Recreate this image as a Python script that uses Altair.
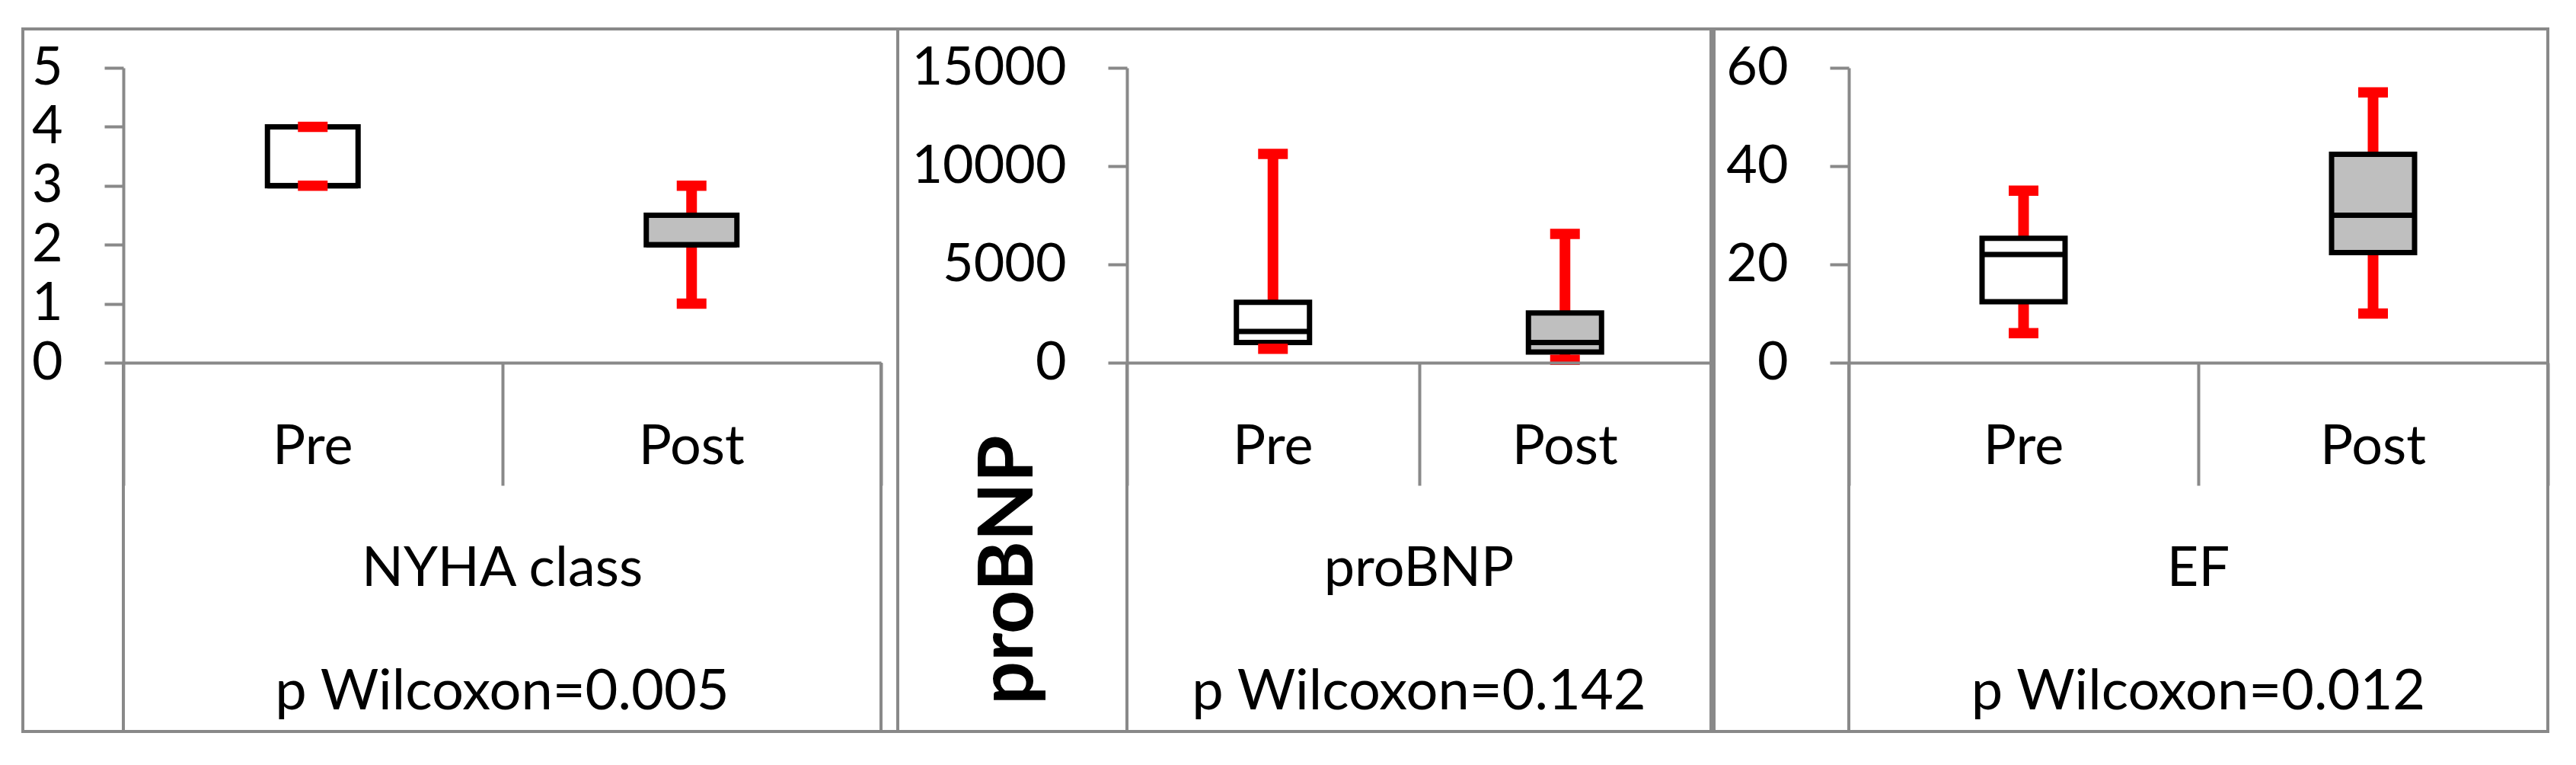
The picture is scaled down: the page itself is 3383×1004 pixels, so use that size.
import altair as alt
import pandas as pd

# ---------------- data ----------------
groups = ["Pre", "Post"]
fills = ["#FFFFFF", "#BFBFBF"]

nyha_min = [3, 1]
nyha_q1 = [3, 2]
nyha_median = [3, 2]
nyha_q3 = [4, 2.5]
nyha_max = [4, 3]
nyha_ticks = [0, 1, 2, 3, 4, 5]

bnp_min = [710, 150]
bnp_q1 = [1030, 540]
bnp_median = [1590, 1030]
bnp_q3 = [3070, 2530]
bnp_max = [10620, 6550]
bnp_ticks = [0, 5000, 10000, 15000]

ef_min = [6, 10]
ef_q1 = [12.4, 22.4]
ef_median = [22, 30]
ef_q3 = [25.3, 42.4]
ef_max = [35, 55]
ef_ticks = [0, 20, 40, 60]

panel_names = ["NYHA class", "proBNP", "EF"]
p_values = ["p Wilcoxon=0.005", "p Wilcoxon=0.142", "p Wilcoxon=0.012"]
rotated_title = "proBNP"

# ---------------- style / layout ----------------
FONT = "Lato"
FS_AXIS = 70
FS_CAT = 72
FS_P = 74
GRAY = "#898989"
RED = "#FF0000"
H = 922          # panel height
Y0 = 438         # pixel of value 0 inside a panel
YTOP = 51        # pixel of max tick inside a panel
CAT_TICK = 161


def panel(name, pval, mins, q1s, meds, q3s, maxs, ticks, width, ax, rx, box, extra=None):
    df = pd.DataFrame({"group": groups, "fill": fills, "lo": mins, "q1": q1s,
                       "med": meds, "q3": q3s, "hi": maxs})
    xscale = alt.Scale(domain=groups, range=[ax, rx], paddingInner=0, paddingOuter=0)
    xaxis = alt.Axis(orient="bottom", offset=-(H - Y0), labels=False, title=None,
                     tickBand="extent", tickSize=CAT_TICK, domainColor=GRAY,
                     tickColor=GRAY, domainWidth=4, tickWidth=4, grid=False, zindex=1)
    x = alt.X("group:N", scale=xscale, axis=xaxis, sort=groups)
    yscale = alt.Scale(domain=[0, ticks[-1]], range=[Y0, YTOP], nice=False, zero=False)
    yaxis = alt.Axis(orient="left", offset=-ax, values=ticks, title=None,
                     labelFont=FONT, labelFontSize=FS_AXIS, labelColor="black",
                     labelPadding=55, labelLimit=0, tickSize=25, tickColor=GRAY, tickWidth=4,
                     domainColor=GRAY, domainWidth=4, grid=False, labelFlush=False,
                     labelOverlap=False, format="d", zindex=1)

    def Y(f):
        return alt.Y(f + ":Q", scale=yscale, axis=yaxis)

    base = alt.Chart(df)
    whisk = base.mark_rule(color=RED, strokeWidth=14).encode(x=x, y=Y("lo"), y2="hi:Q")
    boxes = base.mark_bar(size=box, stroke="black", strokeWidth=7).encode(
        x=x, y=Y("q1"), y2="q3:Q", fill=alt.Fill("fill:N", scale=None))
    med = base.mark_tick(color="black", thickness=7, size=box, opacity=1).encode(x=x, y=Y("med"))
    cap_lo = base.mark_tick(color=RED, thickness=13.5, size=39, opacity=1).encode(x=x, y=Y("lo"))
    cap_hi = base.mark_tick(color=RED, thickness=13.5, size=39, opacity=1).encode(x=x, y=Y("hi"))
    cat_lab = base.mark_text(font=FONT, fontSize=FS_CAT, baseline="alphabetic", color="black").encode(
        x=x, y=alt.value(571), text="group:N")

    cx = (ax + rx) / 2
    tdf = pd.DataFrame({"t": [name], "yy": [731]})
    names = alt.Chart(tdf).mark_text(font=FONT, fontSize=FS_CAT, baseline="alphabetic",
                                     align="center", color="black").encode(
        x=alt.value(cx), y=alt.Y("yy:Q", scale=None), text="t:N")
    pdf = pd.DataFrame({"t": [pval], "yy": [893]})
    pv = alt.Chart(pdf).mark_text(font=FONT, fontSize=FS_P, baseline="alphabetic",
                                  align="center", color="black").encode(
        x=alt.value(cx), y=alt.Y("yy:Q", scale=None), text="t:N")

    ldf = pd.DataFrame({"xx": [ax, rx]})
    vlines = alt.Chart(ldf).mark_rule(color=GRAY, strokeWidth=4).encode(
        x=alt.X("xx:Q", scale=None), y=alt.value(Y0), y2=alt.value(H))

    layers = [whisk, boxes, med, cap_lo, cap_hi, cat_lab, names, pv, vlines]
    if extra is not None:
        layers += extra
    return alt.layer(*layers).properties(
        width=width, height=H,
        view=alt.ViewBackground(stroke=GRAY, strokeWidth=4, fill="white"))


rot = alt.Chart(pd.DataFrame({"t": [rotated_title]})).mark_text(
    font=FONT, fontSize=100, fontWeight="bold", angle=270, align="center",
    baseline="alphabetic", color="black").encode(x=alt.value(177), y=alt.value(710), text="t:N")
sep = alt.Chart(pd.DataFrame({"xx": [1068]})).mark_rule(color=GRAY, strokeWidth=4).encode(
    x=alt.X("xx:Q", scale=None), y=alt.value(0), y2=alt.value(H))

p1 = panel(panel_names[0], p_values[0], nyha_min, nyha_q1, nyha_median, nyha_q3, nyha_max,
           nyha_ticks, 1149, 132, 1127, 119)
p2 = panel(panel_names[1], p_values[1], bnp_min, bnp_q1, bnp_median, bnp_q3, bnp_max,
           bnp_ticks, 1072, 301, 1068, 96, extra=[rot, sep])
p3 = panel(panel_names[2], p_values[2], ef_min, ef_q1, ef_median, ef_q3, ef_max,
           ef_ticks, 1095, 177, 1095, 109)

chart = alt.hconcat(p1, p2, p3, spacing=0, bounds="flush").properties(
    padding={"left": 20, "top": 26, "right": 10, "bottom": 10},
    background="white"
).configure_view(stroke=GRAY, strokeWidth=4)

chart.save("out.html", embed_options={"renderer": "svg", "actions": False})
